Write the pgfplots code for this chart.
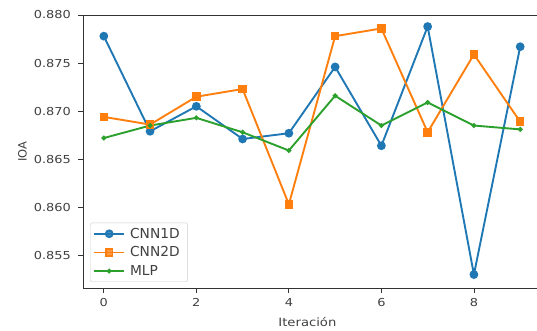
\documentclass[border=0pt]{standalone}
\usepackage{fontspec}
\setmainfont{DejaVu Sans}
\usepackage{pgfplots}
\pgfplotsset{compat=1.18}
\definecolor{c0}{HTML}{1F77B4}
\definecolor{c1}{HTML}{FF7F0E}
\definecolor{c2}{HTML}{2CA02C}
\begin{document}
\begin{tikzpicture}[x=1bp,y=1bp]
\useasboundingbox (-83bp,-43bp) rectangle (454bp,288bp);
\begin{axis}[
  at={(0,0)}, anchor=south west,
  scale only axis,
  width=458bp, height=273bp,
  xmin=-0.45, xmax=9.45,
  ymin=0.8516, ymax=0.8800,
  xtick={0,2,4,6,8},
  ytick={0.855,0.860,0.865,0.870,0.875,0.880},
  yticklabel style={anchor=east, xshift=-3bp, /pgf/number format/.cd,fixed,fixed zerofill,precision=3},
  /pgf/number format/assume math mode=true,
  tick align=outside,
  tick pos=left,
  major tick length=4.5bp,
  tick style={black!80, line width=0.8pt},
  axis line style={black!80, line width=0.9pt},
  ticklabel style={font=\fontsize{11}{13}\selectfont, text=black!75, xscale=1.18},
  xticklabel style={anchor=north, yshift=-2bp},
  label style={font=\fontsize{11.5}{13}\selectfont, text=black!75},
  xlabel={Iteración},
  ylabel={IOA},
  xlabel style={at={(axis description cs:0.49,-0.1245)}, anchor=center, xscale=1.15},
  ylabel style={at={(axis description cs:-0.132,0.5)}, anchor=center},
  legend cell align=left,
  legend style={font=\fontsize{13.8}{15}\selectfont, text=black!75, draw=black!20, rounded corners=2pt, fill=white, fill opacity=0.8, text opacity=1, inner sep=3pt, row sep=3bp, at={(0.0154,0.022)}, anchor=south west,
    nodes={inner xsep=5bp}},
  legend image code/.code={
    \draw[mark repeat=2,mark phase=2] plot coordinates {(0bp,0bp) (15bp,0bp) (30bp,0bp)};
  },
]
\addplot[c0, line width=1.9pt, mark=*, mark size=3.4pt] coordinates {
(0,0.8778) (1,0.8679) (2,0.8705) (3,0.8671) (4,0.8677) (5,0.8746) (6,0.8664) (7,0.8788) (8,0.8530) (9,0.8767)};
\addlegendentry{CNN1D}
\addplot[c1, line width=1.9pt, mark=square*, mark size=3.3pt] coordinates {
(0,0.8694) (1,0.8686) (2,0.8715) (3,0.8723) (4,0.8603) (5,0.8778) (6,0.8786) (7,0.8678) (8,0.8759) (9,0.8689)};
\addlegendentry{CNN2D}
\addplot[c2, line width=1.9pt, mark=*, mark size=1.4pt] coordinates {
(0,0.8672) (1,0.8685) (2,0.8693) (3,0.8678) (4,0.8659) (5,0.8716) (6,0.8685) (7,0.8709) (8,0.8685) (9,0.8681)};
\addlegendentry{MLP}
\end{axis}
\end{tikzpicture}
\end{document}
